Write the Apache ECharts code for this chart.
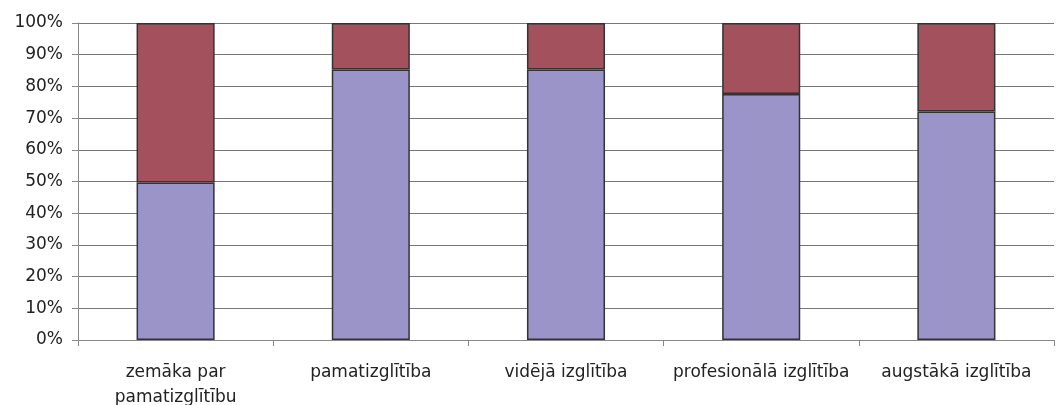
<!DOCTYPE html>
<html><head><meta charset="utf-8">
<script src="https://cdn.jsdelivr.net/npm/echarts@6/dist/echarts.min.js"></script>
<style>html,body{margin:0;padding:0;background:#fff}#c{width:1056px;height:405px}</style>
</head><body><div id="c"></div>
<script>
const categories = ['zemāka par\npamatizglītību', 'pamatizglītība', 'vidējā izglītība', 'profesionālā izglītība', 'augstākā izglītība'];
const lowerValues = [49.7, 85.3, 85.3, 77.6, 72.1];
const upperValues = [50.3, 14.7, 14.7, 22.4, 27.9];
const yTicks = [0, 10, 20, 30, 40, 50, 60, 70, 80, 90, 100];

const chart = echarts.init(document.getElementById('c'));
const font = 'DejaVu Sans, sans-serif';
chart.setOption({
  animation: false,
  grid: { left: 78, right: 2, top: 23, bottom: 65, containLabel: false, outerBoundsMode: 'none' },
  xAxis: {
    type: 'category', data: categories,
    axisLine: { lineStyle: { color: '#888', width: 1 } },
    axisTick: { show: true, length: 6, lineStyle: { color: '#888' } },
    axisLabel: { color: '#222', fontFamily: font, fontSize: 17, margin: 20, lineHeight: 25, interval: 0 },
    splitLine: { show: false }
  },
  yAxis: {
    type: 'value', min: 0, max: 100, interval: 10,
    axisLine: { show: true, lineStyle: { color: '#888', width: 1 } },
    axisTick: { show: true, length: 6, lineStyle: { color: '#888' } },
    axisLabel: { color: '#222', fontFamily: font, fontSize: 17, margin: 15,
      formatter: v => yTicks.includes(v) ? v + '%' : '' },
    splitLine: { show: true, lineStyle: { color: '#777', width: 1 } }
  },
  series: [
    { type: 'bar', stack: 'a', data: lowerValues, barWidth: '40%',
      itemStyle: { color: '#9A94C8', borderColor: '#333', borderWidth: 1.5 } },
    { type: 'bar', stack: 'a', data: upperValues, barWidth: '40%',
      itemStyle: { color: '#A4515E', borderColor: '#333', borderWidth: 1.5 } }
  ]
});
</script></body></html>
